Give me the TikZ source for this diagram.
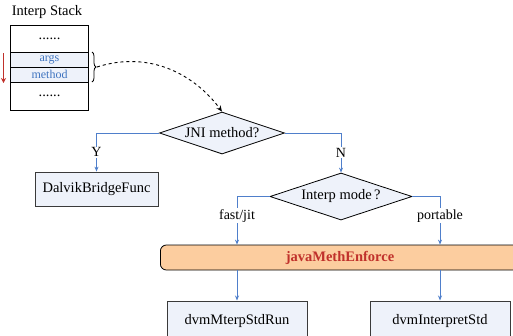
\documentclass[tikz,border=0pt]{standalone}
\usepackage{fontspec}
\setmainfont{Liberation Serif}
\usetikzlibrary{shapes.geometric,arrows.meta,decorations.pathreplacing}
\definecolor{flow}{HTML}{4F7FCB}
\definecolor{boxfill}{HTML}{EEF2FA}
\definecolor{boxline}{HTML}{3A3A3A}
\definecolor{peach}{HTML}{FCCD9F}
\definecolor{darkred}{HTML}{C0312B}
\definecolor{stackblue}{HTML}{3F74C0}
\begin{document}
\begin{tikzpicture}[x=1pt,y=-1pt,
  every node/.style={font=\fontsize{14.5}{16}\selectfont, inner sep=0pt},
  funcbox/.style={draw=boxline, fill=boxfill, line width=0.8pt, minimum height=34pt},
  decision/.style={diamond, draw=black, fill=boxfill, line width=0.8pt, aspect=3},
  flowline/.style={draw=flow, line width=0.9pt, -{Stealth[length=5pt,width=4pt]}},
  stackcell/.style={draw=black, line width=0.8pt, minimum width=78pt},
  lbl/.style={font=\fontsize{14}{16}\selectfont, fill=white, inner sep=1pt}
]
\useasboundingbox (0,0) rectangle (513,335);

% interpreter stack
\node (title) at (47,12) {Interp Stack};
\node[stackcell, minimum height=27pt] (top) at (49.5,38.5) {......};
\node[stackcell, minimum height=15pt, fill=boxfill, text=stackblue, font=\fontsize{12}{13}\selectfont] (args) at (49.5,59.5) {args};
\node[stackcell, minimum height=15pt, fill=boxfill, text=stackblue, font=\fontsize{12}{13}\selectfont] (meth) at (49.5,74.5) {method};
\node[stackcell, minimum height=28pt] (bot) at (49.5,96) {......};
\draw[stackcell, fill=none] (10.5,25) rectangle (88.5,110);

% push direction
\coordinate (pushA) at (3.5,53);
\coordinate (pushB) at (3.5,83);
\draw[draw=darkred, line width=1.5pt, -{Stealth[length=5pt,width=5pt]}] (pushA) -- (pushB);

% brace around the arguments
\draw[line width=0.8pt, decorate, decoration={brace, amplitude=4pt}] (92,52) -- (92,82);
\coordinate (bracetip) at (97,67);

% decisions and calls
\node[decision, minimum width=125pt, minimum height=42pt] (jni) at (222,133) {JNI method?};
\node[funcbox, minimum width=123pt] (bridge) at (96.5,189) {DalvikBridgeFunc};
\node[decision, minimum width=142pt, minimum height=47pt] (mode) at (341,196.5) {Interp mode\,?};
\node[draw=black, fill=peach, rounded corners=6pt, line width=0.8pt, minimum width=380pt, minimum height=25pt, anchor=west] (enforce) at (160,257.5) {};
\node[text=darkred, font=\bfseries\fontsize{14.5}{16}\selectfont] (enforcetext) at (340,257.5) {javaMethEnforce};
\node[funcbox, minimum width=140pt, minimum height=40pt, anchor=north] (mterp) at (237,300.5) {dvmMterpStdRun};
\node[funcbox, minimum width=140pt, minimum height=40pt, anchor=north] (portable) at (440,300.5) {dvmInterpretStd};

% the dashed hand-over from the stack
\draw[dashed, line width=0.9pt, -{Stealth[length=6pt,width=5pt]}] (bracetip) .. controls (150,50) and (195,75) .. (jni.north);

% branches
\draw[flowline] (jni.west) -| node[lbl, pos=0.75] {Y} (bridge.north);
\draw[flowline] (jni.east) -| node[lbl, pos=0.75] {N} (mode.north);
\draw[flowline] (mode.west) -| node[lbl, pos=0.7] {fast/jit} (enforce.north west -| mterp.north);
\draw[flowline] (mode.east) -| node[lbl, pos=0.7] {portable} (enforce.north west -| portable.north);
\draw[flowline] (enforce.south west -| mterp.north) -- (mterp.north);
\draw[flowline] (enforce.south west -| portable.north) -- (portable.north);
\end{tikzpicture}
\end{document}
